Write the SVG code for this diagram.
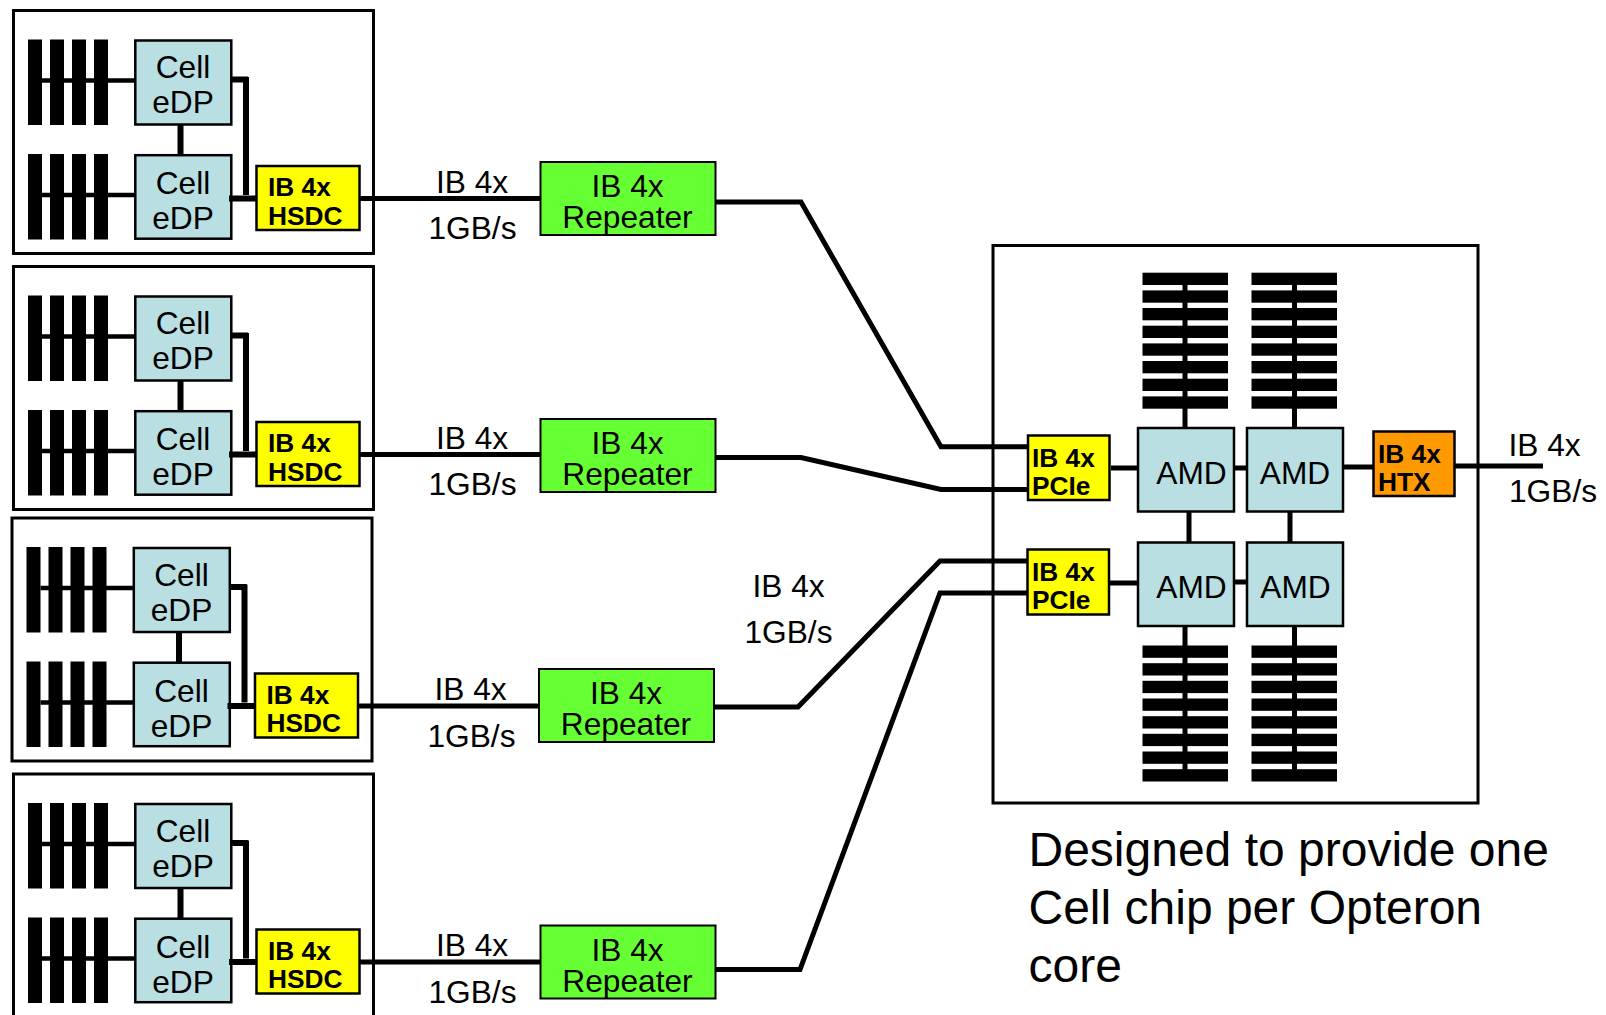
<svg xmlns="http://www.w3.org/2000/svg" xmlns:xlink="http://www.w3.org/1999/xlink" width="1606" height="1015" viewBox="0 0 1606 1015">
<style>
text{font-family:"Liberation Sans",Arial,sans-serif;fill:#000}
.t{font-size:31.7px}
.m{text-anchor:middle}
.b{font-size:26.3px;font-weight:bold}
.big{font-size:48px}
.frame{fill:#fff;stroke:#000;stroke-width:3}
.cell{fill:#b9dfe3;stroke:#000;stroke-width:2.5}
.yel{fill:#ff0;stroke:#000;stroke-width:2.5}
.org{fill:#f90;stroke:#000;stroke-width:2.5}
.rep{fill:#66ff33;stroke:#000;stroke-width:2}
.bar{fill:#000}
.c{fill:none;stroke:#000;stroke-width:5}
.c3{fill:none;stroke:#000;stroke-width:4.5}
.c6{fill:none;stroke:#000;stroke-width:6}
</style>
<defs>
<g id="vbars"><rect class="bar" x="28" y="0" width="14" height="85.5"/><rect class="bar" x="50" y="0" width="14" height="85.5"/><rect class="bar" x="72" y="0" width="14" height="85.5"/><rect class="bar" x="94" y="0" width="14" height="85.5"/></g>
<g id="hbars"><rect class="bar" x="0" y="0" width="85.5" height="12.3"/><rect class="bar" x="0" y="17.7" width="85.5" height="12.3"/><rect class="bar" x="0" y="35.3" width="85.5" height="12.3"/><rect class="bar" x="0" y="53" width="85.5" height="12.3"/><rect class="bar" x="0" y="70.7" width="85.5" height="12.3"/><rect class="bar" x="0" y="88.3" width="85.5" height="12.3"/><rect class="bar" x="0" y="106" width="85.5" height="12.3"/><rect class="bar" x="0" y="123.7" width="85.5" height="12.3"/></g>
<g id="cellpair">
<use href="#vbars" y="39.5"/><use href="#vbars" y="154"/>
<rect class="cell" x="135.3" y="40.5" width="96" height="84"/><text class="t m" x="183" y="78">Cell</text><text class="t m" x="183" y="113">eDP</text>
<rect class="cell" x="135.3" y="155.2" width="96" height="83.5"/><text class="t m" x="183" y="194">Cell</text><text class="t m" x="183" y="229">eDP</text>
<rect class="yel" x="256.5" y="166" width="103" height="64"/><text class="b" x="268" y="196">IB 4x</text><text class="b" x="268" y="224.5">HSDC</text>
</g>
<g id="boardlinks">
<path class="c3" d="M42 80.500H135M42 195H135"/>
<path class="c6" d="M180.500 124V155M231 79.500H248M246 77V195M229 198.500H256.500"/>
<path class="c" d="M359 198.500H540"/>
</g>
<g id="repeater"><rect class="rep" width="175" height="73"/><text class="t m" x="87" y="35">IB 4x</text><text class="t m" x="87" y="66">Repeater</text></g>
</defs>
<rect width="1606" height="1015" fill="#fff"/>
<g id="board1"><rect class="frame" x="13.500" y="10.500" width="360" height="243"/><use href="#cellpair"/></g>
<g id="board2" transform="translate(0 256)"><rect class="frame" x="13.500" y="10.500" width="360" height="243"/><use href="#cellpair"/></g>
<g id="board3" transform="translate(-1.500 507.500)"><rect class="frame" x="13.500" y="10.500" width="360" height="243"/><use href="#cellpair"/></g>
<g id="board4" transform="translate(0 763.500)"><rect class="frame" x="13.500" y="10.500" width="360" height="243"/><use href="#cellpair"/></g>
<g id="repeater1" transform="translate(540.500 162)"><use href="#repeater"/></g>
<g id="repeater2" transform="translate(540.500 419)"><use href="#repeater"/></g>
<g id="repeater3" transform="translate(539 669)"><use href="#repeater"/></g>
<g id="repeater4" transform="translate(540.500 925.500)"><use href="#repeater"/></g>
<g id="opteron-frame"><rect class="frame" x="993" y="245.500" width="485" height="557.500"/></g>
<g id="mem-tl"><use href="#hbars" x="1142.500" y="272.700"/></g>
<g id="mem-tr"><use href="#hbars" x="1251.500" y="272.700"/></g>
<g id="mem-bl"><use href="#hbars" x="1142.500" y="645.500"/></g>
<g id="mem-br"><use href="#hbars" x="1251.500" y="645.500"/></g>
<g id="pcie1"><rect class="yel" x="1028" y="435.500" width="81.500" height="64.500"/><text class="b" x="1032" y="467">IB 4x</text><text class="b" x="1032" y="495">PCIe</text></g>
<g id="pcie2"><rect class="yel" x="1027.500" y="549.500" width="81.500" height="65"/><text class="b" x="1032" y="581">IB 4x</text><text class="b" x="1032" y="609">PCIe</text></g>
<g id="amd1"><rect class="cell" x="1138" y="428" width="96" height="83.500"/><text class="t m" x="1191.500" y="483.500">AMD</text></g>
<g id="amd2"><rect class="cell" x="1247" y="428" width="96" height="83.500"/><text class="t m" x="1295" y="483.500">AMD</text></g>
<g id="amd3"><rect class="cell" x="1138" y="542.500" width="96" height="83.500"/><text class="t m" x="1191.500" y="597.500">AMD</text></g>
<g id="amd4"><rect class="cell" x="1247" y="542.500" width="96" height="83.500"/><text class="t m" x="1295.500" y="597.500">AMD</text></g>
<g id="htx"><rect class="org" x="1373.500" y="431.500" width="81" height="64.500"/><text class="b" x="1378" y="463">IB 4x</text><text class="b" x="1378" y="491">HTX</text></g>
<g id="connectors">
<use href="#boardlinks"/>
<use href="#boardlinks" y="256"/>
<use href="#boardlinks" x="-1.500" y="507.500"/>
<use href="#boardlinks" y="763.500"/>
<path class="c" d="M716 202H801L941 446.700H1028"/>
<path class="c" d="M716 457.500H801L941 489.500H1028"/>
<path class="c" d="M714 707H798L940 561H1027"/>
<path class="c" d="M716 969.500H800L940 593H1027"/>
<path class="c" d="M1185 273V428M1294.500 273V428M1189 511V542.500M1290 511V542.500M1185 626V775M1294.500 626V775"/>
<path class="c" d="M1111 468H1138M1234 468H1247M1344 467H1373M1455 466H1543M1109 583H1138M1234 582H1247"/>
<text class="t m" x="472" y="193">IB 4x</text><text class="t m" x="472.500" y="239">1GB/s</text>
<text class="t m" x="472" y="449">IB 4x</text><text class="t m" x="472.500" y="495">1GB/s</text>
<text class="t m" x="470.500" y="700">IB 4x</text><text class="t m" x="471.500" y="747">1GB/s</text>
<text class="t m" x="472" y="956">IB 4x</text><text class="t m" x="472.500" y="1002.500">1GB/s</text>
<text class="t m" x="788.500" y="597">IB 4x</text><text class="t m" x="788.500" y="643">1GB/s</text>
<text class="t" x="1508.500" y="456">IB 4x</text><text class="t" x="1509" y="502">1GB/s</text>
</g>
<g id="caption"><text class="big" x="1028.500" y="866">Designed to provide one</text><text class="big" x="1028.500" y="924">Cell chip per Opteron</text><text class="big" x="1028.500" y="982">core</text></g>
</svg>
